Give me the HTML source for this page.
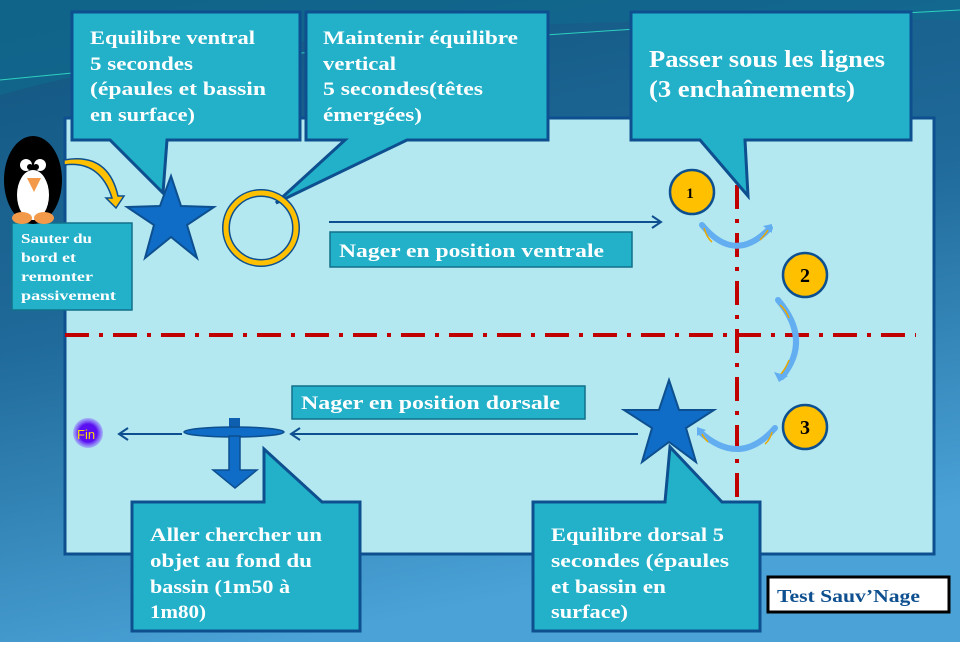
<!DOCTYPE html>
<html><head><meta charset="utf-8"><style>
html,body{margin:0;padding:0;}
body{width:960px;height:642px;overflow:hidden;}
svg text{font-family:"Liberation Serif",serif;font-weight:bold;}
</style></head><body>
<svg width="960" height="642" viewBox="0 0 960 642" xmlns="http://www.w3.org/2000/svg">
<defs>
<linearGradient id="bg" x1="0" y1="0" x2="0.3" y2="1">
<stop offset="0" stop-color="#12557f"/><stop offset="0.5" stop-color="#1f6a9a"/><stop offset="1" stop-color="#4aa2d6"/>
</linearGradient>
<radialGradient id="fin"><stop offset="0.6" stop-color="#5a10f0"/><stop offset="1" stop-color="#7a40ff" stop-opacity="0.3"/></radialGradient>
</defs>
<rect width="960" height="642" fill="url(#bg)"/>
<path d="M0 95 Q300 10 960 20 L960 0 L0 0Z" fill="#0f6d90" opacity="0.6"/>
<path d="M0 80 Q400 40 960 10" stroke="#2fd0c0" stroke-width="1" fill="none"/>
<rect x="65" y="118" width="869" height="436" fill="#b3e8f1" stroke="#0d4f8f" stroke-width="3"/>
<line x1="65" y1="335" x2="916" y2="335" stroke="#c00000" stroke-width="4" stroke-dasharray="24,10,4,10"/>
<line x1="737" y1="185" x2="737" y2="502" stroke="#c00000" stroke-width="4" stroke-dasharray="24,10,4,10"/>
<g fill="#22b1c9" stroke="#0d4f8f" stroke-width="3" stroke-linejoin="miter">
<path d="M72 12 H300 V140 H167 L163 193 L110 140 H72Z"/>
<path d="M306 12 H548 V140 H407 L276 203 L345 140 H306Z"/>
<path d="M631 12 H911 V140 H745 L748 196 L700 140 H631Z"/>
<path d="M132 502 H264 V449 L322 502 H360 V631 H132Z"/>
<path d="M533 502 H665 L670 447 L722 502 H760 V631 H533Z"/>
</g>
<g fill="#fff" font-size="19" lengthAdjust="spacingAndGlyphs">
<text x="90" y="44" textLength="165" lengthAdjust="spacingAndGlyphs">Equilibre ventral</text>
<text x="90" y="70" textLength="103" lengthAdjust="spacingAndGlyphs">5 secondes</text>
<text x="90" y="95" textLength="176" lengthAdjust="spacingAndGlyphs">(épaules et bassin</text>
<text x="90" y="121" textLength="105" lengthAdjust="spacingAndGlyphs">en surface)</text>
<text x="323" y="44" textLength="195" lengthAdjust="spacingAndGlyphs">Maintenir équilibre</text>
<text x="323" y="70" textLength="73" lengthAdjust="spacingAndGlyphs">vertical</text>
<text x="323" y="95" textLength="160" lengthAdjust="spacingAndGlyphs">5 secondes(têtes</text>
<text x="323" y="121" textLength="99" lengthAdjust="spacingAndGlyphs">émergées)</text>
<text x="649" y="67" font-size="24" textLength="236" lengthAdjust="spacingAndGlyphs">Passer sous les lignes</text>
<text x="649" y="97" font-size="24" textLength="206" lengthAdjust="spacingAndGlyphs">(3 enchaînements)</text>
<text x="150" y="541" textLength="172" lengthAdjust="spacingAndGlyphs">Aller chercher  un</text>
<text x="150" y="567" textLength="162" lengthAdjust="spacingAndGlyphs">objet au fond du</text>
<text x="150" y="593" textLength="140" lengthAdjust="spacingAndGlyphs">bassin (1m50 à</text>
<text x="150" y="618" textLength="56" lengthAdjust="spacingAndGlyphs">1m80)</text>
<text x="551" y="541" textLength="173" lengthAdjust="spacingAndGlyphs">Equilibre dorsal 5</text>
<text x="551" y="567" textLength="178" lengthAdjust="spacingAndGlyphs">secondes (épaules</text>
<text x="551" y="593" textLength="115" lengthAdjust="spacingAndGlyphs">et bassin en</text>
<text x="551" y="618" textLength="77" lengthAdjust="spacingAndGlyphs">surface)</text>
</g>
<rect x="330" y="232" width="302" height="35" fill="#22b1c9" stroke="#13708a" stroke-width="1.5"/>
<text x="339" y="257" fill="#fff" font-size="19" textLength="265" lengthAdjust="spacingAndGlyphs">Nager  en position ventrale</text>
<rect x="292" y="386" width="293" height="33" fill="#22b1c9" stroke="#13708a" stroke-width="1.5"/>
<text x="301" y="409" fill="#fff" font-size="19" textLength="259" lengthAdjust="spacingAndGlyphs">Nager  en position dorsale</text>
<rect x="12" y="223" width="120" height="87" fill="#22b1c9" stroke="#13708a" stroke-width="1.5"/>
<g fill="#fff" font-size="14">
<text x="21" y="243" textLength="71" lengthAdjust="spacingAndGlyphs">Sauter du</text>
<text x="21" y="262" textLength="55" lengthAdjust="spacingAndGlyphs">bord et</text>
<text x="21" y="281" textLength="72" lengthAdjust="spacingAndGlyphs">remonter</text>
<text x="21" y="300" textLength="95" lengthAdjust="spacingAndGlyphs">passivement</text></g>
<rect x="768" y="577" width="181" height="35" fill="#fff" stroke="#000" stroke-width="3"/>
<text x="777" y="602" fill="#0d4f8f" font-size="18" textLength="143" lengthAdjust="spacingAndGlyphs">Test Sauv’Nage</text>
<ellipse cx="33" cy="180" rx="29" ry="44" fill="#000"/>
<ellipse cx="33" cy="195" rx="16" ry="25" fill="#fff"/>
<circle cx="26" cy="165" r="6" fill="#fff"/><circle cx="40" cy="165" r="6" fill="#fff"/>
<circle cx="30" cy="167" r="3" fill="#000"/><circle cx="36" cy="167" r="3" fill="#000"/>
<path d="M27 178 L41 178 L34 192Z" fill="#f2994a"/>
<ellipse cx="22" cy="218" rx="10" ry="6" fill="#f2994a"/><ellipse cx="44" cy="218" rx="10" ry="6" fill="#f2994a"/>
<path d="M64 165 Q100 160 112 198 L106 198 L116 208 L124 196 L118 196 Q108 152 64 160Z" fill="#ffc000" stroke="#0d4f8f" stroke-width="1.5"/>
<polygon points="171,176 181,206 214,207 187,225 197,258 171,237 145,258 154,225 127,207 160,206" fill="#0f6dc8" stroke="#0d4f8f" stroke-width="2"/>
<polygon points="669,380 679,410 714,410 686,428 696,462 669,442 642,462 652,428 624,410 659,410" fill="#0f6dc8" stroke="#0d4f8f" stroke-width="2"/>
<circle cx="261" cy="228" r="35" fill="none" stroke="#0d4f8f" stroke-width="8"/>
<circle cx="261" cy="228" r="35" fill="none" stroke="#ffc000" stroke-width="5"/>
<g stroke="#0d4f8f" stroke-width="2" fill="none">
<line x1="329" y1="222" x2="660" y2="222"/><path d="M652 216 L661 222 L652 228"/>
<line x1="638" y1="434" x2="292" y2="434"/><path d="M300 428 L291 434 L300 440"/>
<line x1="182" y1="434" x2="120" y2="434"/><path d="M128 428 L119 434 L128 440"/>
</g>
<rect x="229" y="418" width="11" height="12" fill="#0f5fb0"/>
<ellipse cx="234" cy="432" rx="50" ry="5" fill="#0f6dc8" stroke="#0d4f8f" stroke-width="1.5"/>
<path d="M229 436 H240 V470 H257 L235 488 L213 470 H229Z" fill="#0f6dc8" stroke="#0d4f8f" stroke-width="1.5"/>
<circle cx="88" cy="433" r="15" fill="url(#fin)"/>
<text x="77" y="439" fill="#ffd800" font-size="13" style="font-family:'Liberation Sans',sans-serif;font-weight:normal">Fin</text>
<g stroke="#0d4f8f" stroke-width="2.5" fill="#ffc000">
<circle cx="692" cy="192" r="22"/><circle cx="805" cy="275" r="22"/><circle cx="805" cy="427" r="22"/>
</g>
<g font-size="20" fill="#000" style="font-weight:normal" text-anchor="middle">
<text x="690" y="198" font-size="15">1</text><text x="805" y="282">2</text><text x="805" y="434">3</text>
</g>
<g fill="none" stroke="#62aef0" stroke-width="6" stroke-linecap="round">
<path d="M702 225 Q735 265 770 228"/>
<path d="M778 300 Q812 340 782 377"/>
<path d="M775 428 Q740 468 700 432"/>
</g>
<g fill="none" stroke="#e8a800" stroke-width="1.5">
<path d="M704 228 Q707 238 712 242"/><path d="M760 240 Q765 235 768 230"/>
<path d="M780 305 Q786 310 789 318"/><path d="M789 360 Q786 368 781 374"/>
<path d="M772 432 Q770 440 765 444"/><path d="M708 442 Q704 438 702 434"/>
</g>
<g fill="#62aef0">
<path d="M763 226 L772 224 L772 233Z"/><path d="M774 372 L779 382 L788 376Z"/><path d="M697 436 L697 427 L706 430Z"/>
</g>
</svg>
</body></html>
